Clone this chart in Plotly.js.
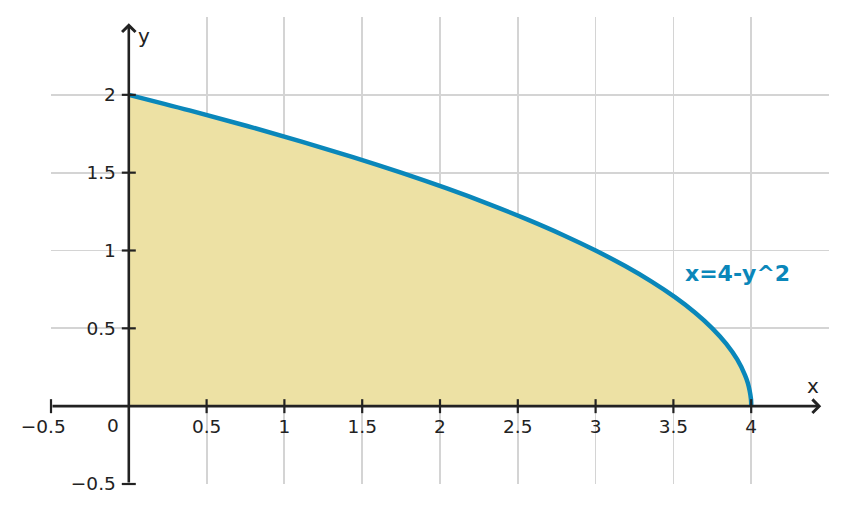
<!DOCTYPE html>
<html>
<head>
<meta charset="utf-8">
<script src="https://cdn.plot.ly/plotly-3.0.1.min.js"></script>
<style>
  body { margin: 0; background: #fff; }
  #myDiv { width: 846px; height: 512px; }
</style>
</head>
<body>
<div id="myDiv"></div>
<script>
// curve x = 4 - y^2
var curveY = [0, 0.02, 0.05, 0.1, 0.15, 0.2, 0.3, 0.4, 0.5, 0.6, 0.7, 0.8, 0.9, 1.0,
              1.1, 1.2, 1.3, 1.4, 1.5, 1.6, 1.7, 1.8, 1.9, 2.0];
var curveX = [4.0, 4.0, 3.998, 3.99, 3.978, 3.96, 3.91, 3.84, 3.75, 3.64, 3.51, 3.36, 3.19, 3.0,
              2.79, 2.56, 2.31, 2.04, 1.75, 1.44, 1.11, 0.76, 0.39, 0.0];

var xTicks = [-0.5, 0.5, 1, 1.5, 2, 2.5, 3, 3.5, 4];
// trailing spaces nudge the negative label left, like the reference
var xTickText = ['\u22120.5\u2007\u2009', '0.5', '1', '1.5', '2', '2.5', '3', '3.5', '4'];
var yTicks = [-0.5, 0.5, 1, 1.5, 2];
var yTickText = ['\u22120.5', '0.5', '1', '1.5', '2'];

var curveLabel = 'x=4-y^2';
var axisColor = '#222222';
var blue = '#0a87ba';
var font = 'DejaVu Sans, sans-serif';

var region = {
  x: curveX,
  y: curveY,
  type: 'scatter',
  mode: 'lines',
  fill: 'tozerox',
  fillcolor: '#ede1a4',
  line: {color: blue, width: 4.5, shape: 'spline'},
  hoverinfo: 'skip'
};

var xTickMarks = {
  x: xTicks,
  y: xTicks.map(function () { return 0; }),
  type: 'scatter',
  mode: 'markers',
  marker: {symbol: 'line-ns-open', size: 10, color: axisColor, line: {color: axisColor, width: 2.2}},
  cliponaxis: false,
  hoverinfo: 'skip'
};

var yTickMarks = {
  x: yTicks.map(function () { return 0; }),
  y: yTicks,
  type: 'scatter',
  mode: 'markers',
  marker: {symbol: 'line-ew-open', size: 10, color: axisColor, line: {color: axisColor, width: 2.2}},
  cliponaxis: false,
  hoverinfo: 'skip'
};

var data = [region, xTickMarks, yTickMarks];

var layout = {
  width: 846,
  height: 512,
  margin: {l: 51, r: 17, t: 17, b: 28},
  paper_bgcolor: '#fff',
  plot_bgcolor: '#fff',
  showlegend: false,
  font: {family: font, size: 18, color: axisColor},
  xaxis: {
    range: [-0.5, 4.5],
    anchor: 'free',
    position: 0.5 / 3,
    tickvals: xTicks,
    ticktext: xTickText,
    ticks: '',
    ticklabelstandoff: 7,
    tickfont: {size: 18.5},
    showgrid: true,
    gridcolor: '#d4d4d4',
    gridwidth: 1.8,
    zeroline: false,
    showline: false,
    fixedrange: true
  },
  yaxis: {
    range: [-0.5, 2.5],
    anchor: 'free',
    position: 0.5 / 5,
    tickvals: yTicks,
    ticktext: yTickText,
    ticks: '',
    ticklabelstandoff: 13,
    tickfont: {size: 18.5},
    showgrid: true,
    gridcolor: '#d4d4d4',
    gridwidth: 1.8,
    zeroline: false,
    showline: false,
    fixedrange: true
  },
  annotations: [
    // axis lines with arrow heads
    {x: 4.45, y: 0, ax: -0.5, ay: 0, xref: 'x', yref: 'y', axref: 'x', ayref: 'y',
     text: '', showarrow: true, arrowhead: 4, arrowsize: 1, arrowwidth: 2.6, arrowcolor: axisColor},
    {x: 0, y: 2.46, ax: 0, ay: -0.5, xref: 'x', yref: 'y', axref: 'x', ayref: 'y',
     text: '', showarrow: true, arrowhead: 4, arrowsize: 1, arrowwidth: 2.6, arrowcolor: axisColor},
    // origin label
    {x: 0, y: 0, xref: 'x', yref: 'y', text: '0', showarrow: false,
     xanchor: 'right', yanchor: 'top', xshift: -8, yshift: -7, font: {size: 18.5, color: axisColor}},
    // axis names
    {x: 4.4, y: 0.13, xref: 'x', yref: 'y', text: 'x', showarrow: false,
     font: {size: 20, color: axisColor}},
    {x: 0.096, y: 2.38, xref: 'x', yref: 'y', text: 'y', showarrow: false,
     font: {size: 20, color: axisColor}},
    // curve label
    {x: 3.91, y: 0.85, xref: 'x', yref: 'y', text: '<b>' + curveLabel + '</b>', showarrow: false,
     font: {size: 22, color: blue}}
  ]
};

Plotly.newPlot('myDiv', data, layout, {displayModeBar: false, staticPlot: true});
</script>
</body>
</html>
